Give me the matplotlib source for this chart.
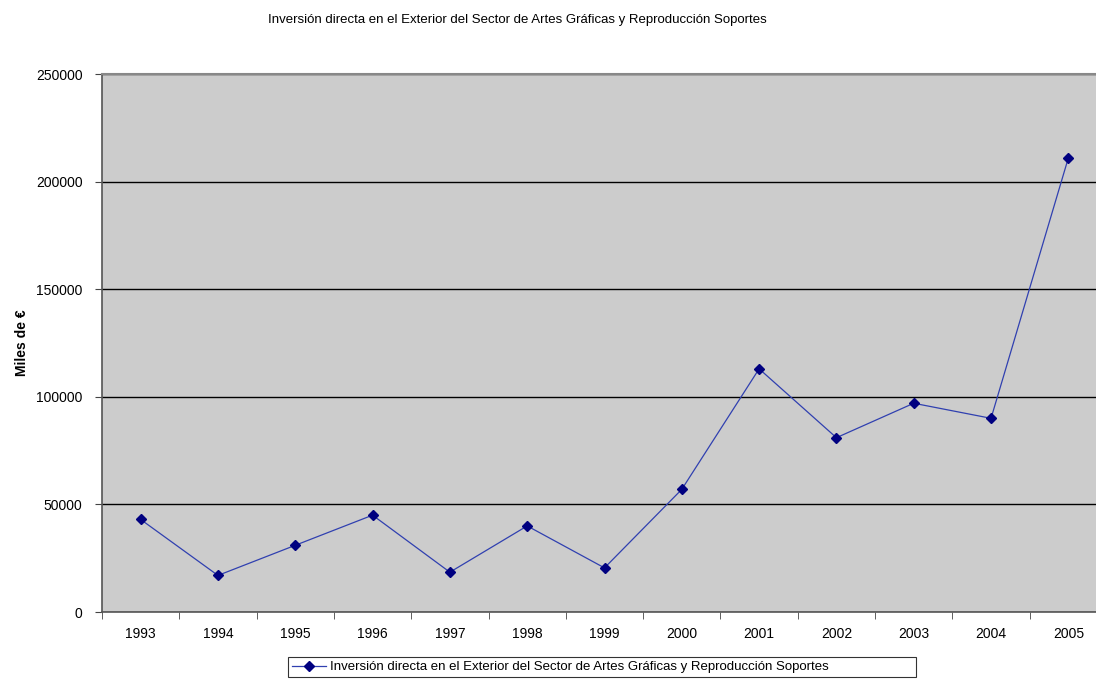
import matplotlib
matplotlib.use("Agg")
import matplotlib.pyplot as plt
from matplotlib.ticker import FixedLocator

plt.rcParams['font.family'] = ['Liberation Sans', 'DejaVu Sans']

years = ['1993', '1994', '1995', '1996', '1997', '1998', '1999',
         '2000', '2001', '2002', '2003', '2004', '2005']
inversion = [43000, 17000, 31000, 45000, 18500, 40000, 20500,
             57000, 113000, 81000, 97000, 90000, 211000]
series_name = 'Inversión directa en el Exterior del Sector de Artes Gráficas y Reproducción Soportes'
y_ticks = [0, 50000, 100000, 150000, 200000, 250000]

fig = plt.figure(figsize=(10.96, 6.79), dpi=100)
ax = fig.add_axes([102 / 1096, 1 - 612 / 679, 1005 / 1096, 538 / 679])
ax.set_facecolor('#cccccc')

x = list(range(len(years)))
line, = ax.plot(x, inversion, color='#3040b0', linewidth=0.9,
                marker='D', markersize=5, markerfacecolor='#000080',
                markeredgecolor='#000080', zorder=3)

ax.set_xlim(-0.5, len(years) - 0.5)
ax.set_ylim(0, 250000)

ax.set_yticks(y_ticks)
ax.set_yticklabels([str(v) for v in y_ticks], fontsize=10)
ax.grid(axis='y', color='black', linewidth=1.0)
ax.set_axisbelow(True)

ax.set_xticks(x)
ax.set_xticklabels(years, fontsize=10)
ax.xaxis.set_minor_locator(FixedLocator([i - 0.5 for i in range(len(years) + 1)]))
ax.tick_params(axis='x', which='major', length=0, pad=11)
ax.tick_params(axis='x', which='minor', length=5, color='#444444', direction='out')
ax.tick_params(axis='y', length=5, color='#444444', direction='out', pad=9)

for side in ['left', 'bottom']:
    ax.spines[side].set_color('#555555')
    ax.spines[side].set_linewidth(1.2)
ax.spines['top'].set_color('#888888')
ax.spines['top'].set_linewidth(1.5)
ax.spines['right'].set_visible(False)

ax.set_ylabel('Miles de €', fontsize=10, fontweight='bold', labelpad=5)

fig.text(517 / 1096, 1 - 20 / 679, series_name, fontsize=9.5,
         ha='center', va='center')

leg = fig.legend([line], [series_name], loc='upper left',
                 bbox_to_anchor=(288 / 1096, 1 - 657 / 679, 628 / 1096, 0.0),
                 mode='expand', fontsize=9.5,
                 frameon=True, fancybox=False, edgecolor='black',
                 borderpad=0.3, handlelength=2.6, handletextpad=0.3,
                 borderaxespad=0)
leg.get_frame().set_linewidth(0.8)

fig.savefig('out.png', dpi=100)
